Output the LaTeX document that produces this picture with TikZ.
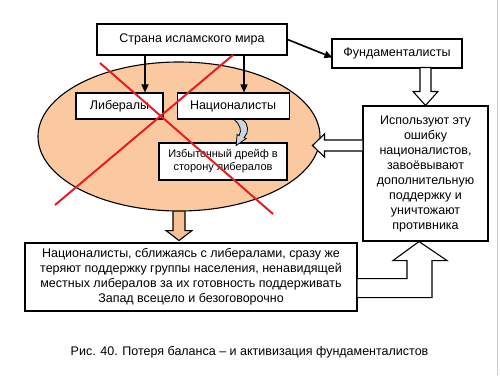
\documentclass[tikz,border=0pt]{standalone}
\usepackage{fontspec}
\setmainfont{Liberation Sans}
\usetikzlibrary{
    positioning,                      % right=of, below=of, etc.
    arrows.meta,                      % Triangle
    shapes.geometric,                 % ellipse
    calc,                             % ($(a)+(1,0)$)
    backgrounds                       % on background layer
}
\definecolor{peach}{RGB}{250,201,160}
\definecolor{peachdark}{RGB}{247,192,148}
\definecolor{bluegrey}{RGB}{204,213,228}
\definecolor{crossred}{RGB}{230,30,35}
\tikzset{
    box/.style={
        rectangle, draw, line width=1.1pt, fill=white,
        align=center, inner sep=2pt,
        font=\fontsize{12.5}{15}\selectfont
    },
    oval/.style={
        ellipse, draw, line width=1.1pt, fill=peach, inner sep=0pt
    },
    arrow/.style={
        -{Triangle[length=8pt,width=7pt]}, line width=1.6pt
    },
    hollow/.style={
        draw, line width=1.1pt, fill=white, line join=miter
    },
    cross/.style={
        crossred, line width=2pt
    }
}

\begin{document}
\begin{tikzpicture}[x=1pt, y=-1pt]
    \useasboundingbox (0,0) rectangle (500,375);
    \draw[gray!40] (497,0) -- (497,375);
    \node[oval, minimum width=282pt, minimum height=149pt] (oval) at (179,136.5) {};
    \node[box, minimum width=190pt, minimum height=31pt] (land) at (192,39.5)
        {Страна исламского мира};
    \node[box, minimum width=130pt, minimum height=29pt] (fund) at (397,53.5)
        {Фундаменталисты};
    \node[box, minimum width=87pt, minimum height=26pt] (lib) at (119.5,106)
        {Либералы};
    \node[box, minimum width=112pt, minimum height=26pt, right=13pt of lib] (nat)
        {Националисты};
    \node[box, minimum width=128pt, minimum height=37pt,
          font=\fontsize{11}{13}\selectfont] (drift) at (223,161.5)
        {Избыточный дрейф в\\сторону либералов};
    \node[box, minimum width=125pt, minimum height=135pt] (win) at (425.5,173.5)
        {Используют эту\\ошибку\\националистов,\\завоёвывают\\дополнительную\\поддержку и\\уничтожают\\противника};
    \node[box, minimum width=332pt, minimum height=68pt] (loss) at (191,277)
        {Националисты, сближаясь с либералами, сразу же\\теряют поддержку группы населения, ненавидящей\\местных либералов за их готовность поддерживать\\Запад всецело и безоговорочно};
    \node[font=\fontsize{12.5}{15}\selectfont] (cap) at (249.5,352)
        {Рис. 40. Потеря баланса – и активизация фундаменталистов};

    \begin{scope}[on background layer]
        \fill[white] (0,0) rectangle (500,375);
        \draw[hollow, fill=peachdark] ($(oval.south)+(-6,-8)$) -- ++(0,27) -- ++(-7,0)
            -- ++(13,10) -- ++(13,-10) -- ++(-7,0) -- ++(0,-27);
    \end{scope}

    \draw[arrow] (land.east) -- ($(fund.west)+(1,4)$);
    \draw[arrow] ($(land.south)+(-47,0)$) coordinate (a1) -- (a1 |- lib.north);
    \draw[arrow] ($(land.south)+(52,0)$) coordinate (a2) -- (a2 |- nat.north);

    \draw[hollow] (win.north) -- ++(-12.5,-14) -- ++(7,0) -- ++(0,-24) -- ++(11,0)
        -- ++(0,24) -- ++(7,0) -- cycle;
    \draw[hollow] ($(win.west)+(0,-33.5)$) -- ++(-38,0) -- ++(0,-6) -- ++(-12,11.5)
        -- ++(12,11.5) -- ++(0,-6) -- ++(38,0);
    \draw[hollow] ($(win.south)+(-6.5,0)$) -- ++(28,19) -- ++(-15,0) -- ++(0,37)
        -- ++(-75,0) -- ++(0,-19) -- ++(50,0) -- ++(0,-18) -- ++(-14,0) -- cycle;

    \begin{scope}[shift={(nat.south)}]
        \draw[line width=0.8pt, fill=bluegrey] (9,0) .. controls (16,4) and (16,13) .. (11,18)
            -- (13,19) -- (3,26) -- (4,15) -- (6,16) .. controls (9,11) and (7,5) .. (1,0) -- cycle;
    \end{scope}

    \draw[cross] (100,63) -- (273,214);
    \draw[cross] (233,55) -- (55,205);
\end{tikzpicture}
\end{document}
